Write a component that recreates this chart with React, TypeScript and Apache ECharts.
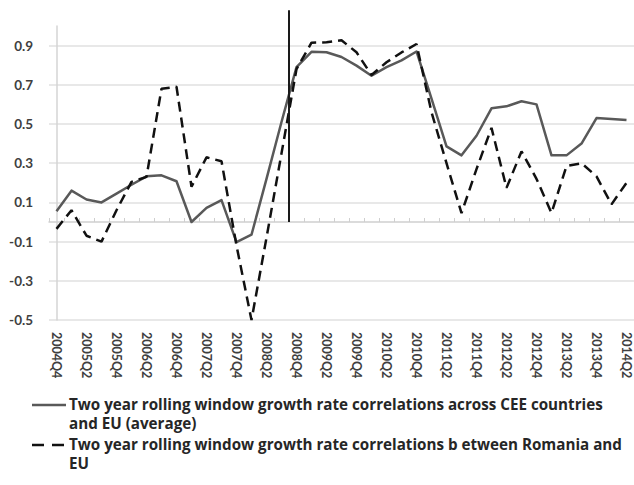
import React, { useEffect, useRef } from 'react';
import * as echarts from 'echarts';

const categories = [
  '2004Q4',
  '2005Q1', '2005Q2', '2005Q3', '2005Q4',
  '2006Q1', '2006Q2', '2006Q3', '2006Q4',
  '2007Q1', '2007Q2', '2007Q3', '2007Q4',
  '2008Q1', '2008Q2', '2008Q3', '2008Q4',
  '2009Q1', '2009Q2', '2009Q3', '2009Q4',
  '2010Q1', '2010Q2', '2010Q3', '2010Q4',
  '2011Q1', '2011Q2', '2011Q3', '2011Q4',
  '2012Q1', '2012Q2', '2012Q3', '2012Q4',
  '2013Q1', '2013Q2', '2013Q3', '2013Q4',
  '2014Q1', '2014Q2',
];

const ceeAverage = [
  0.055, 0.16, 0.115, 0.1, 0.145, 0.19, 0.233, 0.238, 0.208, 0.0,
  0.072, 0.112, -0.103, -0.065, 0.22, 0.51, 0.79, 0.868, 0.866, 0.842,
  0.798, 0.746, 0.79, 0.825, 0.87, 0.63, 0.386, 0.34, 0.44, 0.58,
  0.59, 0.616, 0.6, 0.34, 0.34, 0.4, 0.53, 0.526, 0.52,
];

const romaniaEu = [
  -0.035, 0.06, -0.07, -0.1, 0.06, 0.205, 0.23, 0.68, 0.69, 0.18,
  0.33, 0.31, -0.12, -0.5, -0.08, 0.35, 0.78, 0.915, 0.917, 0.927,
  0.866, 0.75, 0.815, 0.865, 0.908, 0.56, 0.3, 0.045, 0.27, 0.48,
  0.174, 0.36, 0.22, 0.046, 0.285, 0.3, 0.233, 0.09, 0.2,
];

// vertical marker: category position, from value, to value
const markerLine = [15.5, 0, 1.08];

const seriesNames = [
  'Two year rolling window growth rate correlations across CEE countries\nand EU (average)',
  'Two year rolling window growth rate correlations b etween Romania and\nEU',
];

const SOLID_COLOR = '#595959';
const DASH_COLOR = '#111111';
const FONT = 'Lato, "Open Sans", sans-serif';
const LEGEND_FONT = '"Open Sans", Lato, sans-serif';

export default function App() {
  const ref = useRef<HTMLDivElement>(null);

  useEffect(() => {
    if (!ref.current) return;
    const chart = echarts.init(ref.current, undefined, { renderer: 'svg' });

    const legendText = (text: string, y: number) => ({
      type: 'text',
      left: 69,
      top: y,
      silent: true,
      style: {
        text,
        fontFamily: LEGEND_FONT,
        fontWeight: 'bold',
        fontSize: 15.2,
        lineHeight: 19,
        fill: '#262626',
      },
    });

    chart.setOption({
      animation: false,
      backgroundColor: '#ffffff',
      grid: { left: 49, top: 26, width: 589, height: 294 },
      graphic: [
        {
          type: 'line',
          silent: true,
          shape: { x1: 32, y1: 405, x2: 66, y2: 405 },
          style: { stroke: SOLID_COLOR, lineWidth: 2.5 },
        },
        legendText(seriesNames[0], 394.5),
        {
          type: 'line',
          silent: true,
          shape: { x1: 32, y1: 445, x2: 66, y2: 445 },
          style: { stroke: DASH_COLOR, lineWidth: 2.5, lineDash: [12, 8] },
        },
        legendText(seriesNames[1], 434.5),
      ],
      xAxis: [
        {
          type: 'category',
          data: categories,
          boundaryGap: true,
          axisLine: { show: false, onZero: false },
          axisTick: { show: false },
          splitLine: { show: false },
          axisLabel: {
            interval: 1,
            rotate: -90,
            margin: 12,
            fontFamily: FONT,
            fontWeight: 'bold',
            fontSize: 12.5,
            color: '#404040',
          },
        },
        {
          type: 'category',
          data: categories,
          boundaryGap: true,
          axisLine: { show: true, onZero: true, lineStyle: { color: '#cfcfcf', width: 1.5 } },
          axisTick: { show: true, interval: 0, length: 4, lineStyle: { color: '#cfcfcf' } },
          axisLabel: { show: false },
          splitLine: { show: false },
        },
        {
          type: 'value',
          min: -0.5,
          max: categories.length - 0.5,
          show: false,
        },
      ],
      yAxis: {
        type: 'value',
        min: -0.5,
        max: 1.0,
        interval: 0.2,
        axisLine: { show: true, lineStyle: { color: '#d4d4d4', width: 1.5 } },
        axisTick: { show: false },
        splitLine: { show: true, showMaxLine: false, lineStyle: { color: '#e0e0e0', width: 1.5 } },
        axisLabel: {
          margin: 16,
          fontFamily: FONT,
          fontWeight: 'bold',
          fontSize: 13.5,
          color: '#404040',
          formatter: (v: number) => (v > 0.95 ? '' : v.toFixed(1)),
        },
      },
      series: [
        {
          name: seriesNames[0],
          type: 'line',
          xAxisIndex: 0,
          data: ceeAverage,
          symbol: 'none',
          showSymbol: false,
          lineStyle: { color: SOLID_COLOR, width: 2.5, join: 'round' },
          itemStyle: { color: SOLID_COLOR },
          z: 3,
        },
        {
          name: seriesNames[1],
          type: 'line',
          xAxisIndex: 0,
          data: romaniaEu,
          symbol: 'none',
          showSymbol: false,
          lineStyle: { color: DASH_COLOR, width: 2.5, type: [10, 6] },
          itemStyle: { color: DASH_COLOR },
          z: 4,
        },
        {
          type: 'custom',
          xAxisIndex: 2,
          yAxisIndex: 0,
          silent: true,
          clip: false,
          data: [markerLine],
          encode: { x: 0, y: [1, 2] },
          z: 5,
          renderItem: (_params: any, api: any) => {
            const p1 = api.coord([api.value(0), api.value(1)]);
            const p2 = api.coord([api.value(0), api.value(2)]);
            return {
              type: 'line',
              shape: { x1: p1[0], y1: p1[1], x2: p2[0], y2: p2[1] },
              style: { stroke: '#1a1a1a', lineWidth: 2 },
            };
          },
        },
      ],
    });

    return () => chart.dispose();
  }, []);

  return (
    <div
      ref={ref}
      style={{ position: 'fixed', left: 0, top: 0, width: 634, height: 485, background: '#fff' }}
    />
  );
}
